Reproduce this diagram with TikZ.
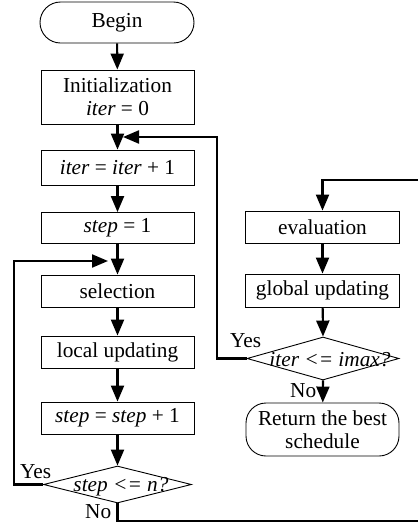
\documentclass[tikz,border=0pt]{standalone}
\usepackage{fontspec}
\setmainfont{Liberation Serif}
\usetikzlibrary{arrows.meta,shapes.geometric}
\newcommand\myfs{\fontsize{21.3}{23}\selectfont}
\begin{document}
\begin{tikzpicture}[x=1pt,y=-1pt,
  box/.style={draw,line width=0.9pt,minimum width=153pt,inner sep=0pt,align=center,font=\myfs},
  dia/.style={draw,diamond,line width=0.9pt,inner sep=0pt},
  txt/.style={inner sep=0pt,font=\myfs},
  conn/.style={line width=2.1pt,-{Triangle[length=16pt,width=13pt]}}
]
\useasboundingbox (0,0) rectangle (418,523);
\clip (0,0) rectangle (418,523);
% left column
\node[box,rounded corners=20.5pt,minimum width=154pt,minimum height=41pt] (begin) at (117,22.5) {Begin};
\node[box,minimum height=54pt] (init) at (117.5,97) {Initialization\\\textit{iter} = 0};
\node[box,minimum height=35pt] (iter1) at (117.5,167.5) {\textit{iter} = \textit{iter} + 1};
\node[box,minimum height=31pt] (step1) at (117.5,228) {\textit{step} = 1};
\node[box,minimum height=32pt] (sel) at (117.5,291) {selection};
\node[box,minimum height=32pt] (local) at (117.5,352) {local updating};
\node[box,minimum height=32pt] (stepinc) at (117.5,418) {\textit{step} = \textit{step} + 1};
\node[dia,minimum width=148pt,minimum height=37pt] (d1) at (117.5,484.5) {};
\node[txt,anchor=base] (d1t) at (121,491) {\textit{step\ <=\ n?}};
% right column
\node[box,minimum width=154pt,minimum height=32pt] (eval) at (322.5,227) {evaluation};
\node[box,minimum width=154pt,minimum height=33pt] (glob) at (322.5,290.5) {global updating};
\node[dia,minimum width=152pt,minimum height=43pt] (d2) at (323,358.5) {};
\node[txt,anchor=base] (d2t) at (330,366) {\textit{iter\ <=\ imax?}};
\node[box,rounded corners=20pt,minimum width=153pt,minimum height=53pt] (ret) at (322.5,429.5) {Return the best\\schedule};
% labels
\node[txt,anchor=base west] (y1) at (20,478) {Yes};
\node[txt,anchor=base west] (n1) at (85,518) {No};
\node[txt,anchor=base west] (y2) at (230,347) {Yes};
\node[txt,anchor=base west] (n2) at (290,397) {No};
% coordinates
\coordinate (lx) at (14,261);
\coordinate (ltip) at (108,261);
\coordinate (rx) at (217,137);
\coordinate (rtip) at (123,137);
\coordinate (bl) at (117.5,521);
\coordinate (br) at (430,521);
\coordinate (tr) at (430,180);
\coordinate (tl) at (322.5,180);
% connectors
\draw[conn] (begin) -- (init);
\draw[conn] (init) -- (iter1);
\draw[conn] (iter1) -- (step1);
\draw[conn] (step1) -- (sel);
\draw[conn] (sel) -- (local);
\draw[conn] (local) -- (stepinc);
\draw[conn] (stepinc) -- (d1.north);
\draw[conn] (d1.west) -| (lx) -- (ltip);
\draw[conn] (d2.west) -| (rx) -- (rtip);
\draw[conn] (d2.south) -- (ret);
\draw[conn] (eval) -- (glob);
\draw[conn] (glob) -- (d2.north);
\draw[conn] (d1.south) -- (bl) -- (br) -- (tr) -- (tl) -- (eval.north);
\end{tikzpicture}
\end{document}
